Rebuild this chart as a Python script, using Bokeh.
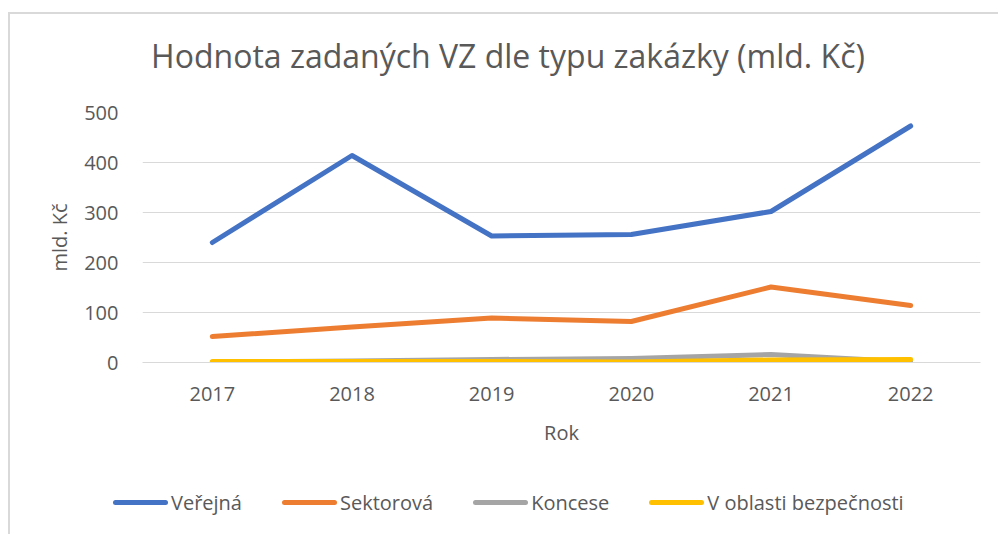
from bokeh.plotting import figure
from bokeh.models import Range1d, FixedTicker, ColumnDataSource, Div
from bokeh.layouts import column
from bokeh.embed import file_html
from bokeh.resources import INLINE

years = ["2017", "2018", "2019", "2020", "2021", "2022"]
verejna = [240, 414, 253, 256, 302, 473]
sektorova = [52, 71, 89, 82, 151, 114]
koncese = [1, 3, 6, 8, 16, 1]
bezpecnost = [2, 2, 2, 1, 5, 6]

series_names = ["Veřejná", "Sektorová", "Koncese", "V oblasti bezpečnosti"]
series_values = [verejna, sektorova, koncese, bezpecnost]
colors = ["#4472C4", "#ED7D31", "#A5A5A5", "#FFC000"]

title_text = "Hodnota zadaných VZ dle typu zakázky (mld. Kč)"
y_label = "mld. Kč"
x_label = "Rok"
y_ticks = [0, 100, 200, 300, 400, 500]

FONT = "Open Sans"
TXT = "#595959"
GRID = "#D9D9D9"

W = 986
H_TITLE, H_PLOT, H_LEG = 74, 376, 59

# title
title_div = Div(width=W, height=H_TITLE, text=(
    f'<div style="padding-top:15px;padding-left:14px;width:{W-14}px;text-align:center;'
    f"font-family:'{FONT}';font-size:32px;line-height:44px;color:{TXT};white-space:nowrap\">"
    f'{title_text}</div>'))

p = figure(x_range=years, y_range=Range1d(0, 500), width=W, height=H_PLOT,
           output_backend="svg", toolbar_location=None,
           min_border_left=132, min_border_right=16, min_border_top=14, min_border_bottom=112)
p.outline_line_color = None
p.background_fill_color = "white"
p.border_fill_color = "white"
p.x_range.range_padding = 0

for vals, c in zip(series_values, colors):
    src = ColumnDataSource(dict(x=years, y=vals))
    p.line("x", "y", source=src, line_color=c, line_width=5,
           line_cap="round", line_join="round")

# grid
p.xgrid.grid_line_color = None
p.ygrid.grid_line_color = GRID
p.ygrid.grid_line_width = 1
p.yaxis.ticker = FixedTicker(ticks=y_ticks)

# y axis
p.yaxis.axis_line_color = None
p.yaxis.major_tick_line_color = None
p.yaxis.minor_tick_line_color = None
p.yaxis.major_tick_out = 0
p.yaxis.major_label_standoff = 24
p.yaxis.major_label_text_font = FONT
p.yaxis.major_label_text_font_size = "20px"
p.yaxis.major_label_text_color = TXT
p.yaxis.axis_label = y_label
p.yaxis.axis_label_text_font = FONT
p.yaxis.axis_label_text_font_size = "20px"
p.yaxis.axis_label_text_font_style = "normal"
p.yaxis.axis_label_text_color = TXT
p.yaxis.axis_label_standoff = 8

# x axis
p.xaxis.axis_line_color = GRID
p.xaxis.axis_line_width = 1
p.xaxis.major_tick_line_color = None
p.xaxis.minor_tick_line_color = None
p.xaxis.major_tick_out = 0
p.xaxis.major_label_standoff = 24
p.xaxis.major_label_text_font = FONT
p.xaxis.major_label_text_font_size = "20px"
p.xaxis.major_label_text_color = TXT
p.xaxis.axis_label = x_label
p.xaxis.axis_label_text_font = FONT
p.xaxis.axis_label_text_font_size = "20px"
p.xaxis.axis_label_text_font_style = "normal"
p.xaxis.axis_label_text_color = TXT
p.xaxis.axis_label_standoff = 15

# legend strip
parts = []
for i, (name, c) in enumerate(zip(series_names, colors)):
    ml = 0 if i == 0 else 40
    parts.append(
        f'<span style="display:inline-block;margin-left:{ml}px;width:55px;height:5px;'
        f'border-radius:3px;background:{c};vertical-align:middle"></span>'
        f'<span style="margin-left:3px;vertical-align:middle">{name}</span>')
legend_div = Div(width=W, height=H_LEG, text=(
    f'<div style="padding-top:10px;padding-left:98px;font-family:\'{FONT}\';font-size:20px;'
    f'line-height:24px;color:{TXT};white-space:nowrap">' + "".join(parts) + '</div>'))

layout = column(title_div, p, legend_div, spacing=0)
layout.styles = {"border-left": "2px solid #D9D9D9", "border-top": "2px solid #D9D9D9",
                 "margin-top": "12px", "margin-left": "8px"}

open("out.html", "w").write(file_html(layout, INLINE))
